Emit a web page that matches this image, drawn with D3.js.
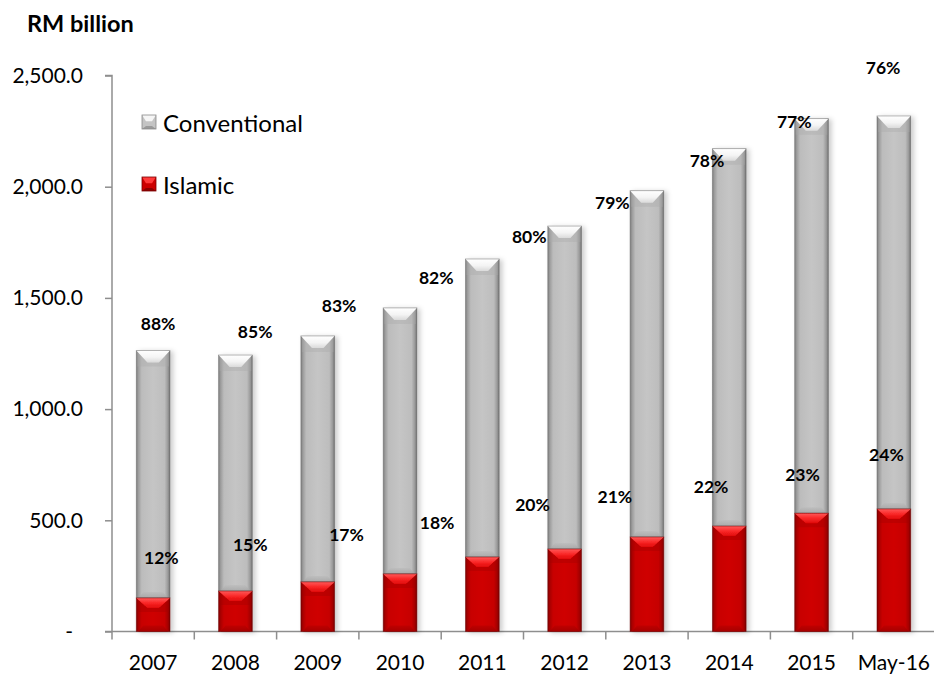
<!DOCTYPE html>
<html>
<head>
<meta charset="utf-8">
<script src="https://cdn.jsdelivr.net/npm/d3@7"></script>
<style>
  html, body { margin: 0; padding: 0; background: #ffffff; }
  svg { display: block; font-family: Lato, "Open Sans", sans-serif; }
</style>
</head>
<body>
<svg id="chart" width="934" height="675"></svg>
<script>
// Banking system assets by type, RM billion
const categories = ["2007", "2008", "2009", "2010", "2011", "2012", "2013", "2014", "2015", "May-16"];
const islamic = [151, 182, 223, 259, 335, 371, 425, 474, 532, 551];
const conventional = [1112, 1061, 1106, 1196, 1340, 1452, 1557, 1697, 1774, 1767];
const yTicks = [0, 500, 1000, 1500, 2000, 2500];
const seriesNames = ["Conventional", "Islamic"];

// Share annotations (text boxes)
const conventionalShareLabels = ["88%", "85%", "83%", "82%", "80%", "79%", "78%", "77%", "76%"];
const islamicShareLabels = ["12%", "15%", "17%", "18%", "20%", "21%", "22%", "23%", "24%"];

// Where the text boxes sit: category offset and height in axis units
const conventionalLabelAnchors = [
  [0.06, 1383], [1.24, 1347], [2.26, 1464], [3.44, 1590], [4.57, 1774],
  [5.58, 1931], [6.73, 2120], [7.79, 2295], [8.87, 2538]
];
const islamicLabelAnchors = [
  [0.10, 331], [1.18, 389], [2.35, 438], [3.45, 492], [4.61, 569],
  [5.61, 609], [6.78, 654], [7.89, 704], [8.91, 798]
];

const svg = d3.select("#chart");
const plot = { left: 112, right: 935, top: 75.5, bottom: 631.5 };

const x = d3.scaleBand()
  .domain(categories)
  .range([plot.left, plot.right])
  .paddingInner(0.59)
  .paddingOuter(0.295);

const y = d3.scaleLinear()
  .domain([0, 2500])
  .range([plot.bottom, plot.top]);

// category index -> pixel centre
const step = x.step();
const xIdx = i => plot.left + step * (i + 0.5);

// ---- defs: gradients and shadow ----
const defs = svg.append("defs");

function hGrad(id, stops) {
  const g = defs.append("linearGradient").attr("id", id)
    .attr("x1", "0").attr("y1", "0").attr("x2", "1").attr("y2", "0");
  stops.forEach(s => g.append("stop").attr("offset", s[0]).attr("stop-color", s[1]));
}
function vGrad(id, stops) {
  const g = defs.append("linearGradient").attr("id", id)
    .attr("x1", "0").attr("y1", "0").attr("x2", "0").attr("y2", "1");
  stops.forEach(s => g.append("stop").attr("offset", s[0]).attr("stop-color", s[1]));
}

hGrad("grayBody", [[0, "#7c7c7c"], [0.06, "#9c9c9c"], [0.16, "#bcbcbc"], [0.5, "#c5c5c5"], [0.84, "#bdbdbd"], [0.94, "#999999"], [1, "#6e6e6e"]]);
vGrad("grayTop", [[0, "#ffffff"], [0.55, "#f4f4f4"], [1, "#dadada"]]);
vGrad("grayBottom", [[0, "#bcbcbc"], [1, "#a2a2a2"]]);
hGrad("redBody", [[0, "#7e0000"], [0.06, "#a80000"], [0.16, "#c80000"], [0.5, "#cf0000"], [0.84, "#c60000"], [0.94, "#a40000"], [1, "#760000"]]);
vGrad("redTop", [[0, "#ff5a5a"], [0.5, "#fa2828"], [1, "#e00a0a"]]);
vGrad("redBottom", [[0, "#bb0000"], [1, "#9a0000"]]);

const shadow = defs.append("filter").attr("id", "barShadow")
  .attr("x", "-30%").attr("y", "-5%").attr("width", "160%").attr("height", "115%");
shadow.append("feDropShadow")
  .attr("dx", 3).attr("dy", 1).attr("stdDeviation", 2.4)
  .attr("flood-color", "#000").attr("flood-opacity", 0.2);

// ---- axes ----
const axisColor = "#8e8e8e";

// y axis
const yAxis = d3.axisLeft(y)
  .tickValues(yTicks)
  .tickSize(7)
  .tickPadding(22)
  .tickFormat(d => d === 0 ? "-" : d3.format(",.1f")(d));

const yg = svg.append("g")
  .attr("transform", `translate(${plot.left},0)`)
  .call(yAxis);
yg.select(".domain").attr("stroke", axisColor).attr("stroke-width", 1.5)
  .attr("d", `M-7,${plot.top}H0V${plot.bottom}`);
yg.selectAll(".tick line").attr("stroke", axisColor).attr("stroke-width", 1.5);
yg.selectAll(".tick text")
  .attr("fill", "#000")
  .style("font-size", "21px")
  .style("font-family", "Lato, sans-serif")
  .attr("dx", d => d === 0 ? -10 : 0);

// x axis: labels at category centres, tick marks at category boundaries
const xAxis = d3.axisBottom(x).tickSize(0).tickPadding(24);
const xg = svg.append("g")
  .attr("transform", `translate(0,${plot.bottom})`)
  .call(xAxis);
xg.select(".domain").remove();
xg.selectAll(".tick text")
  .attr("fill", "#000")
  .style("font-size", "21px")
  .style("font-family", "Lato, sans-serif");

const boundaries = d3.range(categories.length + 1).map(i => plot.left + i * step);
xg.selectAll("line.boundary")
  .data(boundaries)
  .join("line")
  .attr("class", "boundary")
  .attr("x1", d => d).attr("x2", d => d)
  .attr("y1", 0).attr("y2", 8)
  .attr("stroke", axisColor).attr("stroke-width", 1.5);
xg.append("line")
  .attr("x1", plot.left - 7).attr("x2", plot.right)
  .attr("y1", 0).attr("y2", 0)
  .attr("stroke", axisColor).attr("stroke-width", 1.5);

// ---- bevelled bar segments ----
function bevelSegment(g, bx, by, bw, bh, kind) {
  const gray = kind === "gray";
  const tH = Math.min(gray ? 12 : 10, bh / 2);
  const inset = bw * 0.33;
  const bH = Math.min(6, bh / 4);

  g.append("rect")
    .attr("x", bx).attr("y", by).attr("width", bw).attr("height", bh)
    .attr("fill", gray ? "url(#grayBody)" : "url(#redBody)");
  // soft shading just under the top facet
  g.append("path")
    .attr("d", `M${bx + 1},${by}L${bx + inset},${by + tH}H${bx + bw - inset}L${bx + bw - 1},${by}L${bx + bw - 1},${by + tH + 4}H${bx + 1}Z`)
    .attr("fill", gray ? "#a8a8a8" : "#a00000").attr("opacity", 0.35);
  g.append("path")
    .attr("d", `M${bx},${by}H${bx + bw}L${bx + bw - inset},${by + tH}H${bx + inset}Z`)
    .attr("fill", gray ? "url(#grayTop)" : "url(#redTop)");
  g.append("path")
    .attr("d", `M${bx + 2},${by + bh}H${bx + bw - 2}L${bx + bw - 7},${by + bh - bH}H${bx + 7}Z`)
    .attr("fill", gray ? "url(#grayBottom)" : "url(#redBottom)").attr("opacity", 0.75);
  g.append("rect")
    .attr("x", bx).attr("y", by).attr("width", bw).attr("height", bh)
    .attr("fill", "none").attr("stroke", gray ? "#6e6e6e" : "#700000")
    .attr("stroke-width", 0.8).attr("stroke-opacity", 0.6);
}

const bars = svg.append("g").attr("class", "bars");
categories.forEach((c, i) => {
  const g = bars.append("g").attr("filter", "url(#barShadow)");
  const bx = x(c), bw = x.bandwidth();
  const isl = islamic[i], conv = conventional[i];
  // conventional stacked on top of islamic
  bevelSegment(g, bx, y(isl + conv), bw, y(isl) - y(isl + conv), "gray");
  bevelSegment(g, bx, y(isl), bw, y(0) - y(isl), "red");
});

// ---- share text boxes ----
const labelStyle = sel => sel
  .attr("text-anchor", "middle")
  .attr("dominant-baseline", "central")
  .attr("fill", "#000")
  .style("font-weight", "bold")
  .style("font-size", "17.5px")
  .style("font-family", "Lato, sans-serif");

svg.append("g").selectAll("text")
  .data(conventionalShareLabels)
  .join("text")
  .attr("x", (d, i) => xIdx(conventionalLabelAnchors[i][0]))
  .attr("y", (d, i) => y(conventionalLabelAnchors[i][1]))
  .text(d => d)
  .call(labelStyle);

svg.append("g").selectAll("text")
  .data(islamicShareLabels)
  .join("text")
  .attr("x", (d, i) => xIdx(islamicLabelAnchors[i][0]))
  .attr("y", (d, i) => y(islamicLabelAnchors[i][1]))
  .text(d => d)
  .call(labelStyle);

// ---- unit title ----
svg.append("text")
  .attr("x", 27).attr("y", 32)
  .attr("fill", "#000")
  .style("font-weight", "bold")
  .style("font-size", "23.5px")
  .style("font-family", "Lato, sans-serif")
  .text("RM billion");

// ---- legend ----
const legend = svg.append("g").attr("transform", "translate(142,115)");
const legendKinds = ["gray", "red"];
seriesNames.forEach((name, i) => {
  const lg = legend.append("g").attr("transform", `translate(0,${i * 62})`);
  const s = 14;
  const gray = legendKinds[i] === "gray";
  lg.append("rect").attr("width", s).attr("height", s)
    .attr("fill", gray ? "#c4c4c4" : "#cc0000");
  lg.append("path")
    .attr("d", `M0,0H${s}L${s - 4},${s * 0.45}H4Z`)
    .attr("fill", gray ? "#f6f6f6" : "#ff3a3a");
  lg.append("path")
    .attr("d", `M0,${s}H${s}L${s - 4},${s - 3}H4Z`)
    .attr("fill", gray ? "#9a9a9a" : "#8c0000");
  lg.append("rect").attr("width", s).attr("height", s)
    .attr("fill", "none").attr("stroke", gray ? "#8a8a8a" : "#7a0000").attr("stroke-width", 0.8);
  lg.append("text")
    .attr("x", 21).attr("y", s / 2)
    .attr("dominant-baseline", "central")
    .attr("fill", "#000")
    .style("font-size", "24px")
    .style("font-family", "Lato, sans-serif")
    .text(name);
});
</script>
</body>
</html>
